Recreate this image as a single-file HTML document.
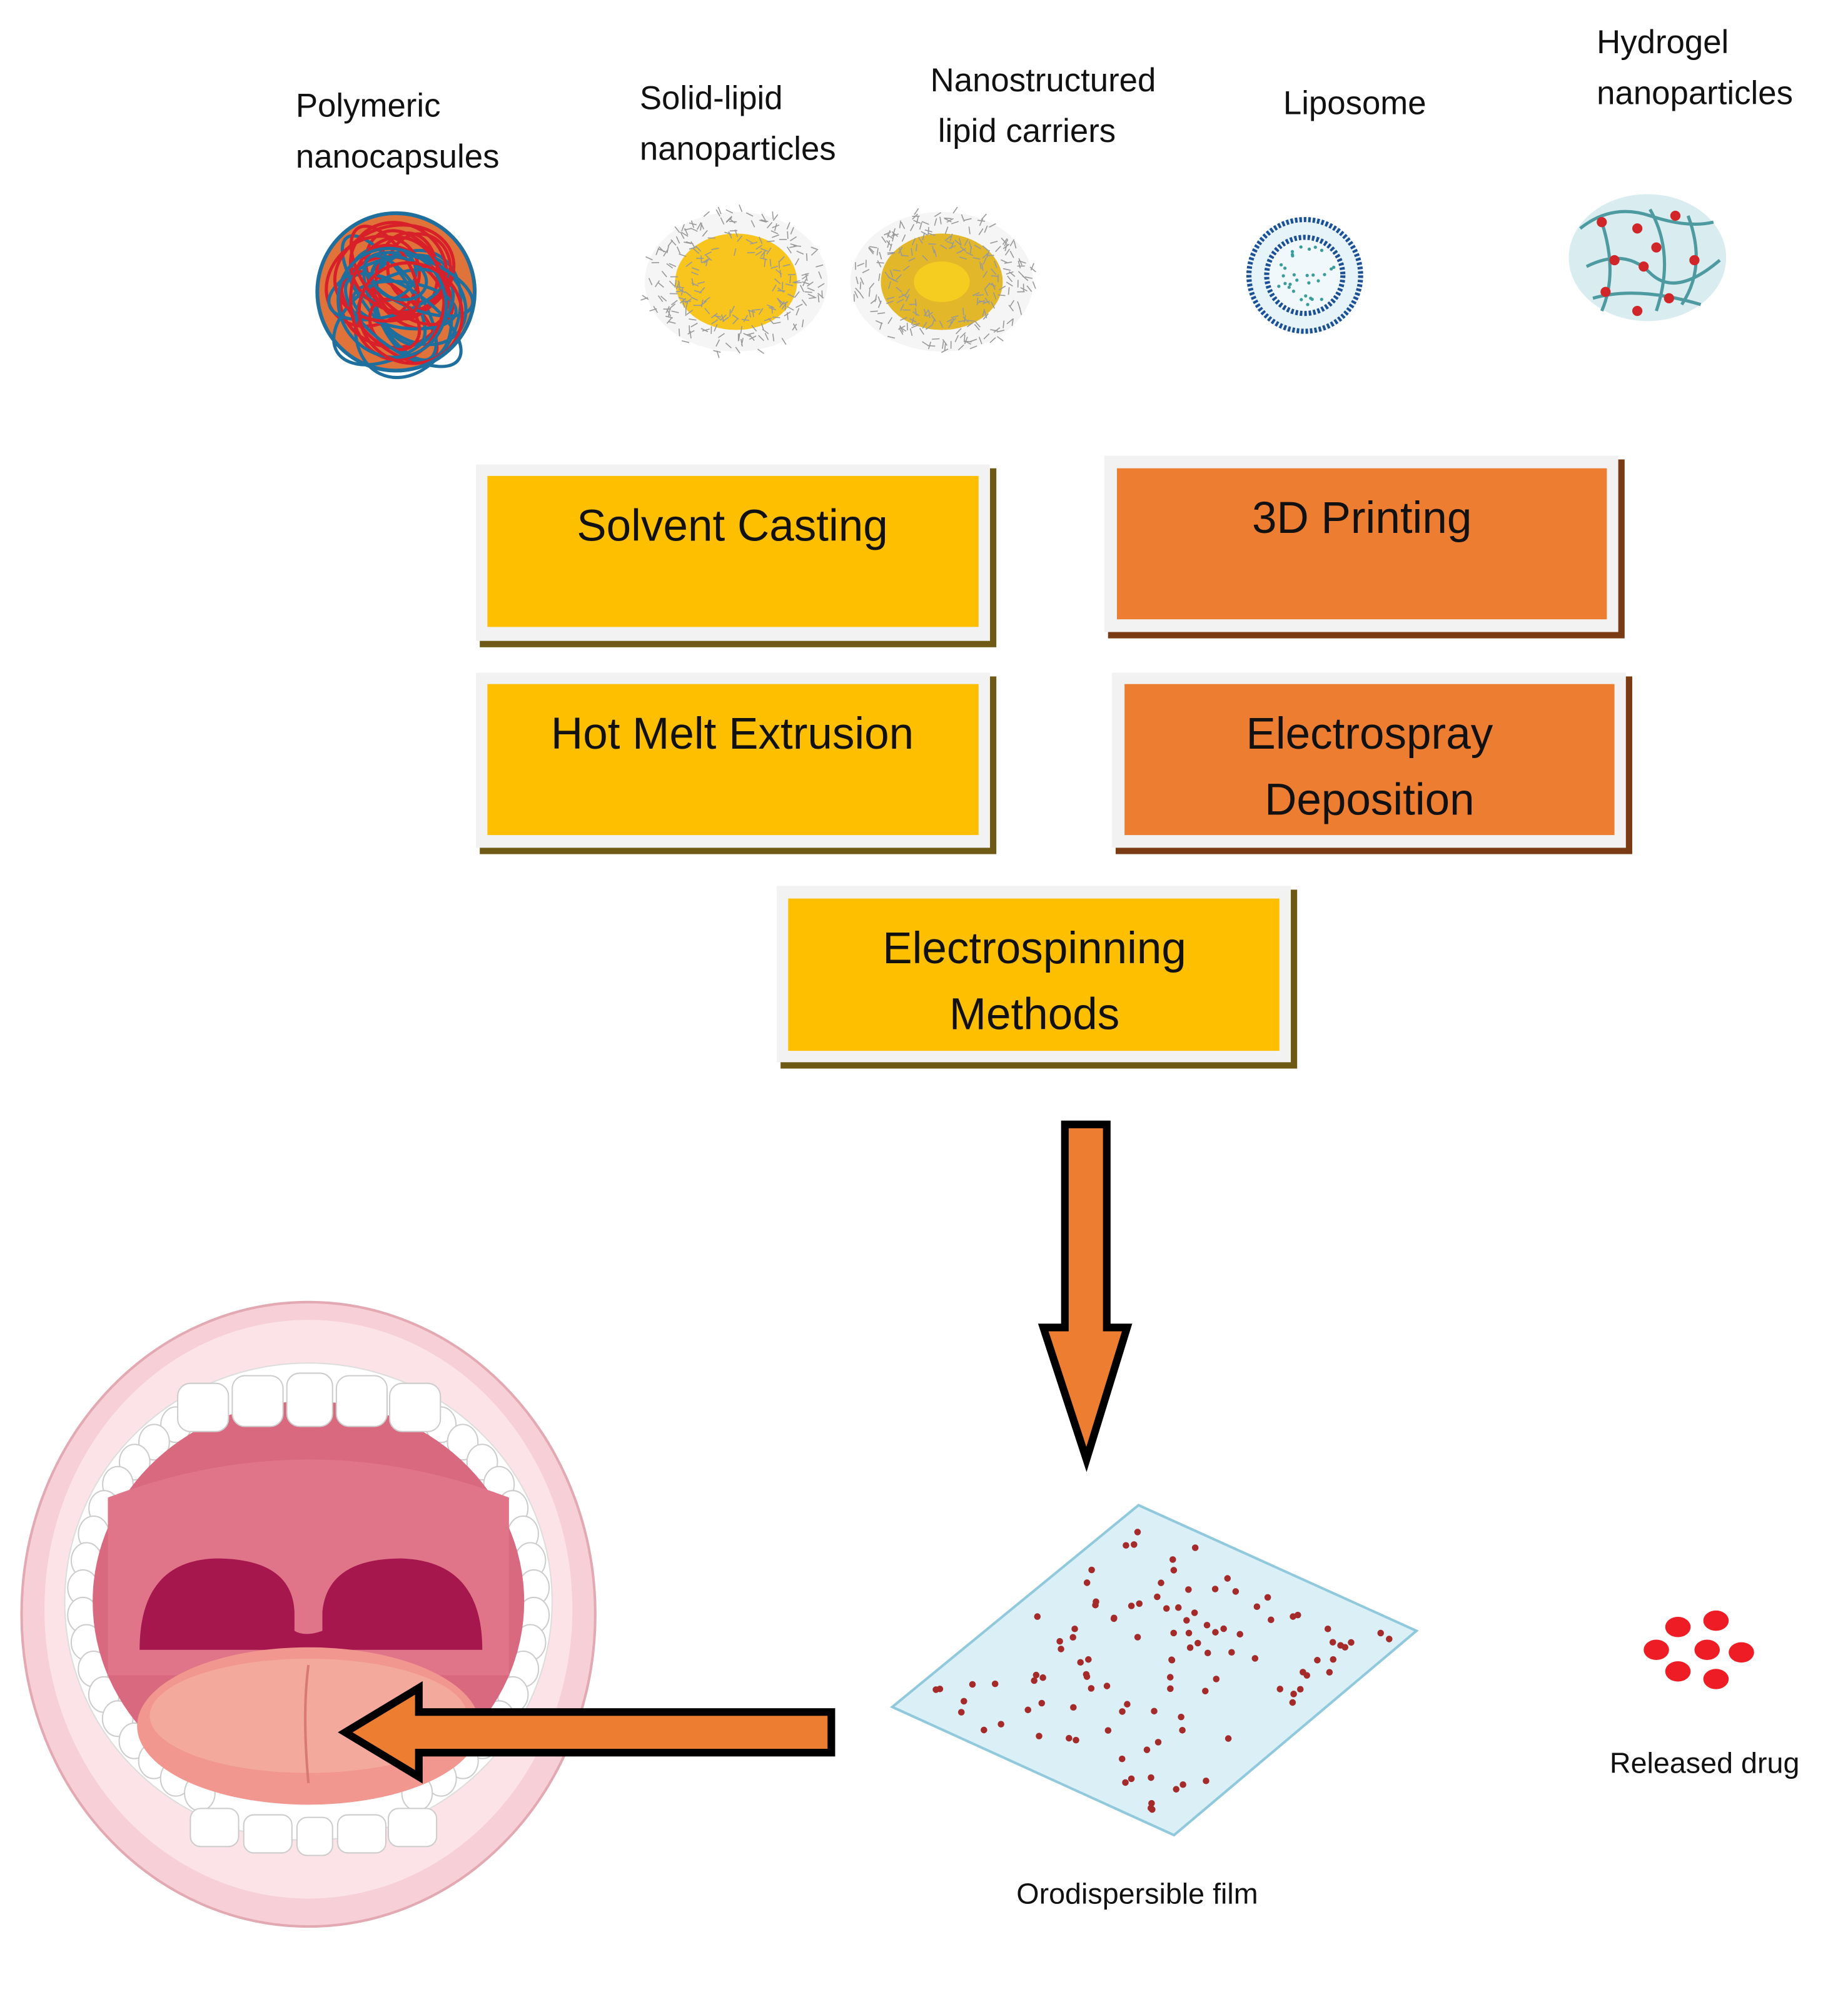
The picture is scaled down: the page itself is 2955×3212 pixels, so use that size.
<!DOCTYPE html>
<html><head><meta charset="utf-8"><style>
html,body{margin:0;padding:0;background:#fff;}
svg{display:block;}
text{font-family:"Liberation Sans",sans-serif;fill:#111;}
</style></head><body>
<svg id="s" width="2955" height="3212" viewBox="0 0 1456 1583" preserveAspectRatio="none" xmlns="http://www.w3.org/2000/svg">
<rect width="1456" height="1583" fill="#fff"/>
<g font-size="26">
<text x="233" y="92">Polymeric</text><text x="233" y="132">nanocapsules</text>
<text x="504" y="86">Solid-lipid</text><text x="504" y="126">nanoparticles</text>
<text x="733" y="72">Nanostructured</text><text x="739" y="112">lipid carriers</text>
<text x="1011" y="90">Liposome</text>
<text x="1258" y="42">Hydrogel</text><text x="1258" y="82">nanoparticles</text>
</g>
<g id="poly"><circle cx="312" cy="230" r="62" fill="#e0733a"/></g>
<g id="sln"><ellipse cx="580" cy="222" rx="72" ry="55" fill="#eee" opacity="0.6"/><ellipse cx="580" cy="222" rx="48" ry="38" fill="#f7c51e"/></g>
<g id="nlc"><ellipse cx="742" cy="222" rx="72" ry="55" fill="#eee" opacity="0.6"/><ellipse cx="742" cy="222" rx="48" ry="38" fill="#e3b72a"/><ellipse cx="742" cy="222" rx="22" ry="16" fill="#f5cc20"/></g>
<circle cx="1028" cy="217" r="46" fill="#e6f3f9"/>
<circle cx="1028" cy="217" r="44" fill="none" stroke="#1c4f93" stroke-width="4" stroke-dasharray="2 1.5"/>
<circle cx="1028" cy="217" r="30" fill="#f1f8fb" stroke="#1c4f93" stroke-width="4" stroke-dasharray="2 1.5"/>
<g id="lipdots"></g>
<ellipse cx="1298" cy="203" rx="62" ry="50" fill="#d9ecf0"/>
<g fill="none" stroke="#4d9aa0" stroke-width="2.5">
<path d="M1245 180 Q1270 160 1300 170 T1350 175"/><path d="M1250 210 Q1280 195 1300 215 T1355 205"/>
<path d="M1262 175 Q1275 215 1262 245"/><path d="M1300 165 Q1320 200 1305 245"/><path d="M1330 170 Q1345 210 1325 240"/>
<path d="M1255 235 Q1290 225 1340 240"/>
</g>
<g fill="#d0262a"><circle cx="1262" cy="175" r="4"/><circle cx="1290" cy="180" r="4"/><circle cx="1320" cy="170" r="4"/><circle cx="1305" cy="195" r="4"/><circle cx="1272" cy="205" r="4"/><circle cx="1335" cy="205" r="4"/><circle cx="1295" cy="210" r="4"/><circle cx="1265" cy="230" r="4"/><circle cx="1315" cy="235" r="4"/><circle cx="1290" cy="245" r="4"/></g>

<g font-size="35" text-anchor="middle">
<g><rect x="378" y="369" width="407" height="141" fill="#6e5a14"/><rect x="375" y="366" width="405" height="139" fill="#f2f2f2"/><rect x="384" y="375" width="387" height="119" fill="#fdbf00"/><text x="577" y="426">Solvent Casting</text></g>
<g><rect x="873" y="362" width="407" height="141" fill="#7a3b14"/><rect x="870" y="359" width="405" height="139" fill="#f2f2f2"/><rect x="880" y="369" width="386" height="119" fill="#ed7d31"/><text x="1073" y="420">3D Printing</text></g>
<g><rect x="378" y="533" width="407" height="140" fill="#6e5a14"/><rect x="375" y="530" width="405" height="138" fill="#f2f2f2"/><rect x="384" y="539" width="387" height="119" fill="#fdbf00"/><text x="577" y="590">Hot Melt Extrusion</text></g>
<g><rect x="879" y="533" width="407" height="140" fill="#7a3b14"/><rect x="876" y="530" width="405" height="138" fill="#f2f2f2"/><rect x="886" y="539" width="386" height="119" fill="#ed7d31"/><text x="1079" y="590">Electrospray</text><text x="1079" y="642">Deposition</text></g>
<g><rect x="615" y="701" width="407" height="141" fill="#6e5a14"/><rect x="612" y="698" width="405" height="139" fill="#f2f2f2"/><rect x="621" y="708" width="387" height="120" fill="#fdbf00"/><text x="815" y="759">Electrospinning</text><text x="815" y="811">Methods</text></g>
</g>

<path d="M839 886 H872 V1046 H888 L856 1150 L822 1046 H839 Z" fill="#ed7d31" stroke="#000" stroke-width="6"/>

<!-- mouth -->
<ellipse cx="243" cy="1272" rx="226" ry="246" fill="#f7cfd6" stroke="#e3a9b3" stroke-width="2"/>
<ellipse cx="243" cy="1268" rx="208" ry="228" fill="#fbe3e7"/>
<ellipse cx="243" cy="1262" rx="192" ry="188" fill="#ffffff" stroke="#ddd" stroke-width="1"/>
<g fill="#fff" stroke="#ccc" stroke-width="1" id="sideteeth"></g>
<ellipse cx="243" cy="1262" rx="170" ry="158" fill="#d9697f"/>
<path d="M85 1180 Q243 1120 401 1180 L401 1320 L85 1320 Z" fill="#e0758a"/>
<path d="M110 1300 Q110 1230 170 1228 Q230 1228 232 1270 L232 1285 Q240 1290 254 1285 L254 1270 Q258 1228 316 1228 Q380 1230 380 1300 Z" fill="#a6174e"/>
<ellipse cx="243" cy="1360" rx="135" ry="62" fill="#f1978f"/>
<ellipse cx="243" cy="1352" rx="125" ry="45" fill="#f4a99d"/>
<path d="M243 1312 Q238 1350 243 1405" stroke="#d97a72" stroke-width="2" fill="none"/>
<g fill="#fff" stroke="#ccc" stroke-width="1">
<rect x="140" y="1090" width="40" height="38" rx="10"/><rect x="183" y="1084" width="40" height="40" rx="10"/><rect x="226" y="1082" width="36" height="42" rx="10"/><rect x="265" y="1084" width="40" height="40" rx="10"/><rect x="307" y="1090" width="40" height="38" rx="10"/>
<rect x="150" y="1425" width="38" height="30" rx="8"/><rect x="192" y="1430" width="38" height="30" rx="8"/><rect x="234" y="1432" width="28" height="30" rx="8"/><rect x="266" y="1430" width="38" height="30" rx="8"/><rect x="306" y="1425" width="38" height="30" rx="8"/>
</g>
<path d="M655 1349 V1381 H330 V1400 L272 1365 L330 1330 V1349 Z" fill="#ed7d31" stroke="#000" stroke-width="6"/>

<polygon points="897,1186 1116,1285 925,1446 703,1345" fill="#dbeff7" stroke="#90c8dc" stroke-width="2"/>
<g id="filmdots" fill="#a52a2a"></g>
<text x="896" y="1500" font-size="23" text-anchor="middle">Orodispersible film</text>

<g fill="#ee1c24">
<ellipse cx="1322" cy="1282" rx="10" ry="8"/><ellipse cx="1352" cy="1277" rx="10" ry="8"/>
<ellipse cx="1305" cy="1300" rx="10" ry="8"/><ellipse cx="1345" cy="1300" rx="10" ry="8"/><ellipse cx="1372" cy="1302" rx="10" ry="8"/>
<ellipse cx="1322" cy="1317" rx="10" ry="8"/><ellipse cx="1352" cy="1323" rx="10" ry="8"/>
</g>
<text x="1343" y="1397" font-size="23" text-anchor="middle">Released drug</text>
</svg>
<script>
(function(){
var NS="http://www.w3.org/2000/svg";var seed=7;function r(){seed=(seed*16807)%2147483647;return seed/2147483647;}
function el(p,t,a){var e=document.createElementNS(NS,t);for(var k in a)e.setAttribute(k,a[k]);p.appendChild(e);return e;}
var fd=document.getElementById('filmdots');
for(var i=0;i<110;i++){var u=r()*0.9+0.05,v=r()*0.9+0.05;var x=703+u*(897-703)+v*(925-703),y=1345+u*(1186-1345)+v*(1446-1345);el(fd,'circle',{cx:x,cy:y,r:2.6});}
var ld=document.getElementById('lipdots');
for(i=0;i<30;i++){var a=r()*6.28,d=Math.sqrt(r())*24;el(ld,'circle',{cx:1028+Math.cos(a)*d,cy:217+Math.sin(a)*d,r:1.3,fill:'#3b9c9c'});}
var st=document.getElementById('sideteeth');
for(i=0;i<18;i++){var t=0.5+i/17*2.14;[1,-1].forEach(function(s){var x=243+s*Math.cos(t-Math.PI/2+Math.PI/2)*0+s*178*Math.sin(t),y=1262-172*Math.cos(t);el(st,'ellipse',{cx:x,cy:y,rx:12,ry:14});});}
var po=document.getElementById('poly');
for(i=0;i<26;i++){var c=i%2?'#d8202a':'#1f6f9e';el(po,'ellipse',{cx:312+(r()-0.5)*40,cy:230+(r()-0.5)*40,rx:20+r()*35,ry:15+r()*30,fill:'none',stroke:c,'stroke-width':2.5,transform:'rotate('+(r()*180)+' 312 230)'});}
el(po,'circle',{cx:312,cy:230,r:62,fill:'none',stroke:'#1f6f9e','stroke-width':3});
['sln','nlc'].forEach(function(id,j){var g=document.getElementById(id),cx=j?742:580;for(var k=0;k<260;k++){var a=r()*6.28,d=30+r()*42;var x=cx+Math.cos(a)*d,y=222+Math.sin(a)*d*0.78;var b=r()*6.28;el(g,'line',{x1:x,y1:y,x2:x+Math.cos(b)*6,y2:y+Math.sin(b)*6,stroke:'#999','stroke-width':0.8});}});
})();
</script>
</body></html>
